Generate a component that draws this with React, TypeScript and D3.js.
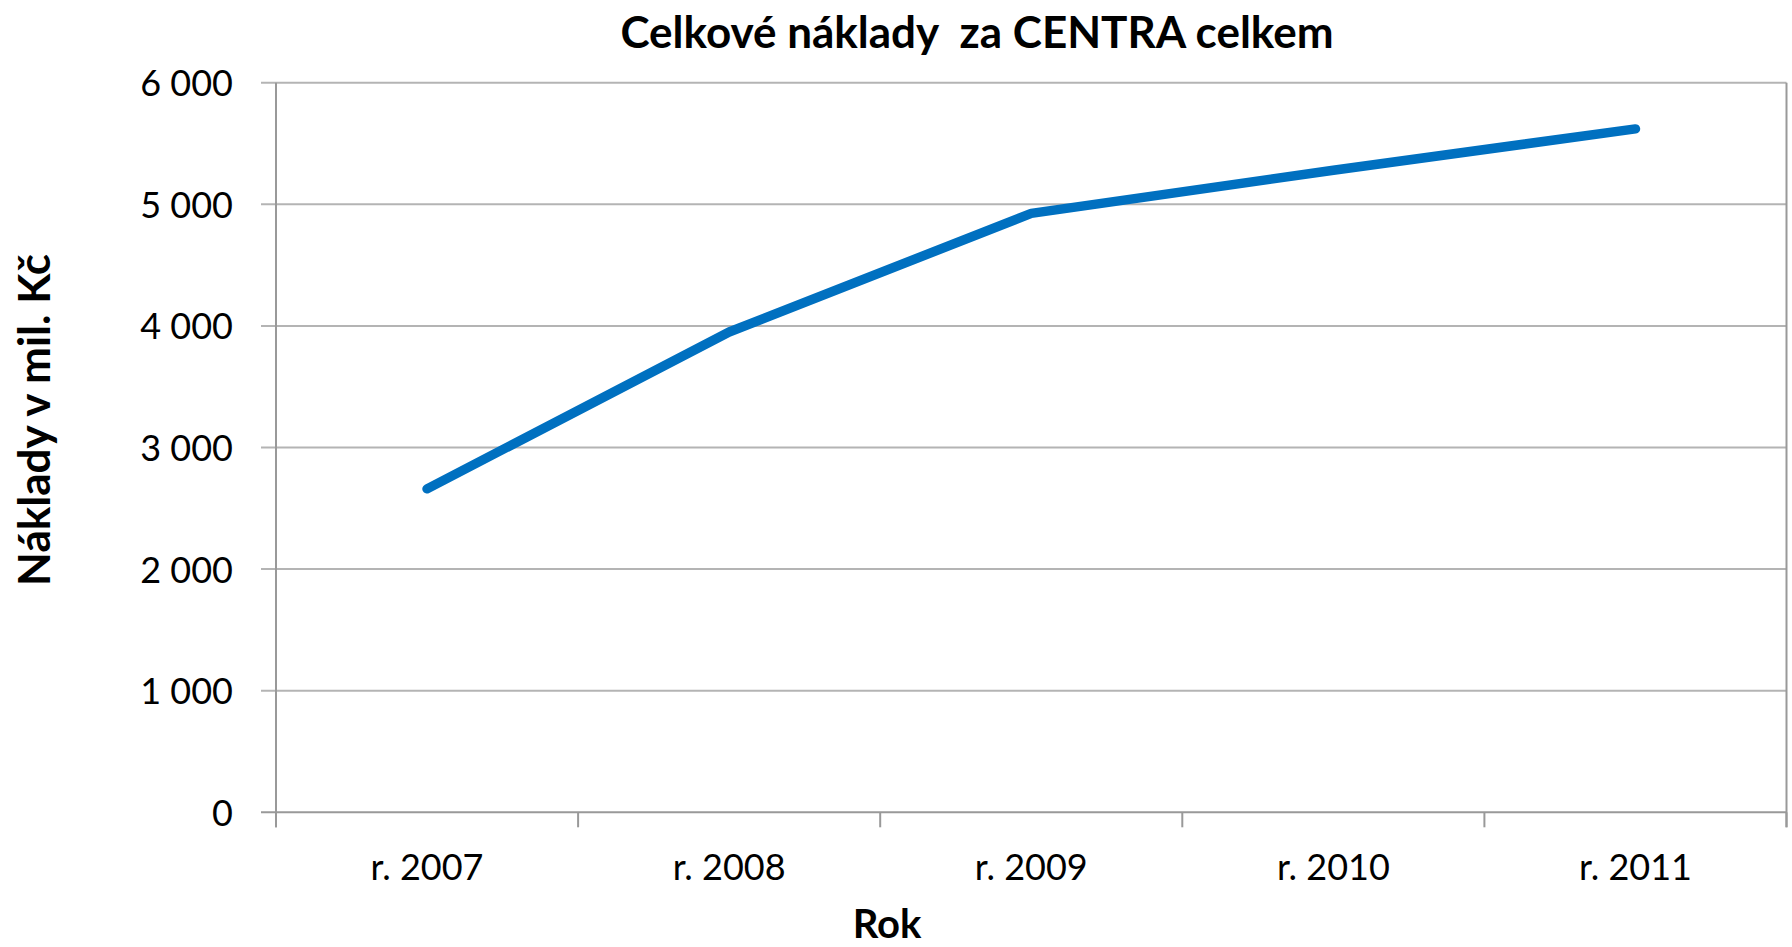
import React, { useEffect } from "react";
import * as d3 from "d3";

const categories = ["r. 2007", "r. 2008", "r. 2009", "r. 2010", "r. 2011"];
const values = [2660, 3950, 4925, 5280, 5620];
const yTicks = [0, 1000, 2000, 3000, 4000, 5000, 6000];
const titleText = "Celkové náklady  za CENTRA celkem";
const yTitle = "Náklady v mil. Kč";
const xTitle = "Rok";

const W = 1792;
const H = 947;
const left = 276;
const right = 1786.5;
const top = 82.7;
const bottom = 812.3;
const FONT = "Lato, 'Open Sans', sans-serif";

export default function App() {
  useEffect(() => {
    document.body.style.margin = "0";
  }, []);

  const x = d3.scaleBand<string>().domain(categories).range([left, right]).padding(0);
  const y = d3.scaleLinear().domain([0, 6000]).range([bottom, top]);
  const fmt = (v: number) => d3.format(",")(v).replace(/,/g, " ");

  const line = d3
    .line<number>()
    .x((_, i) => (x(categories[i]) as number) + x.bandwidth() / 2)
    .y((d) => y(d));

  const boundaries = categories.map((c) => x(c) as number).concat([right]);

  return (
    <svg width={W} height={H} style={{ display: "block", background: "#fff" }}>
      <text
        x={977}
        y={48}
        textAnchor="middle"
        fontFamily={FONT}
        fontWeight="bold"
        fontSize={44}
        fill="#000"
        style={{ whiteSpace: "pre" }}
      >
        {titleText}
      </text>

      {yTicks.map((t) => (
        <g key={t}>
          <line x1={left - 15} x2={right} y1={y(t)} y2={y(t)} stroke={t === 0 ? "#999" : "#b4b4b4"} strokeWidth={2} />
          <text x={233} y={y(t) + 13.5} textAnchor="end" fontFamily={FONT} fontSize={36} fill="#000">
            {fmt(t)}
          </text>
        </g>
      ))}

      <line x1={left} x2={left} y1={top} y2={bottom + 15} stroke="#999" strokeWidth={2} />
      <line x1={right} x2={right} y1={top} y2={bottom + 15} stroke="#999" strokeWidth={2} />
      {boundaries.map((b, i) => (
        <line key={i} x1={b} x2={b} y1={bottom} y2={bottom + 15} stroke="#999" strokeWidth={2} />
      ))}

      {categories.map((c) => (
        <text
          key={c}
          x={(x(c) as number) + x.bandwidth() / 2}
          y={880}
          textAnchor="middle"
          fontFamily={FONT}
          fontSize={36}
          fill="#000"
        >
          {c}
        </text>
      ))}

      <path d={line(values) || ""} fill="none" stroke="#0070C0" strokeWidth={9.5} strokeLinecap="round" strokeLinejoin="round" />

      <text x={887} y={938} textAnchor="middle" fontFamily={FONT} fontWeight="bold" fontSize={40} fill="#000">
        {xTitle}
      </text>

      <text
        transform={`translate(50,420) rotate(-90)`}
        textAnchor="middle"
        fontFamily={FONT}
        fontWeight="bold"
        fontSize={44}
        fill="#000"
      >
        {yTitle}
      </text>
    </svg>
  );
}
